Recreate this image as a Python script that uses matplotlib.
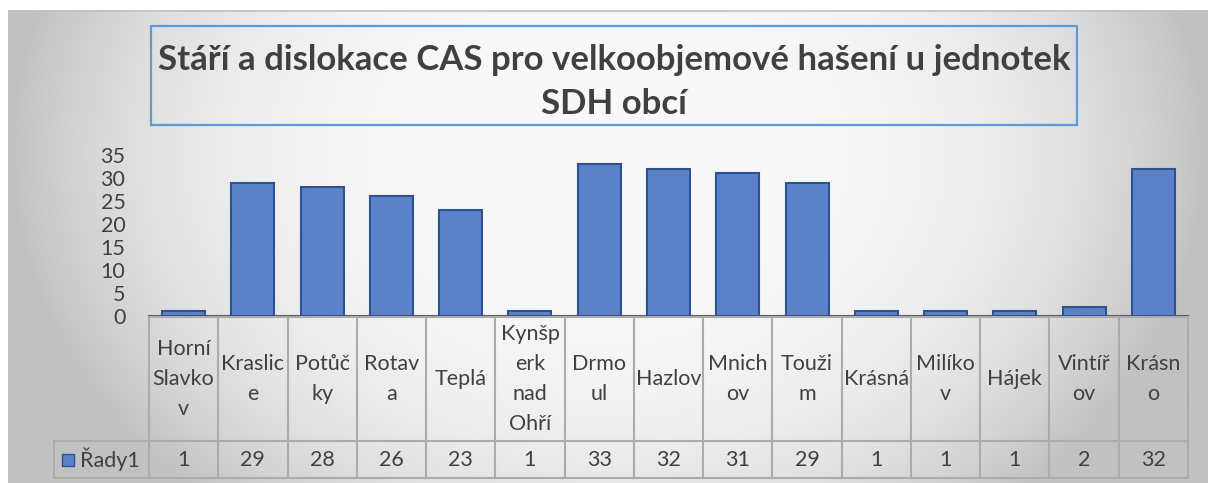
import numpy as np
import matplotlib
matplotlib.use("Agg")
import matplotlib.pyplot as plt
from matplotlib.patches import Rectangle

plt.rcParams['font.family'] = ['Lato', 'DejaVu Sans']

categories = ["Horní\nSlavko\nv", "Kraslic\ne", "Potůč\nky", "Rotav\na", "Teplá",
              "Kynšp\nerk\nnad\nOhří", "Drmo\nul", "Hazlov", "Mnich\nov", "Touži\nm",
              "Krásná", "Milíko\nv", "Hájek", "Vintíř\nov", "Krásn\no"]
values = [1, 29, 28, 26, 23, 1, 33, 32, 31, 29, 1, 1, 1, 2, 32]
series_name = "Řady1"
yticks = [0, 5, 10, 15, 20, 25, 30, 35]
title = "Stáří a dislokace CAS pro velkoobjemové hašení u jednotek\nSDH obcí"

W, H = 1208, 483
fig = plt.figure(figsize=(W / 100, H / 100), dpi=100)
fig.patch.set_facecolor("white")

def fx(x):
    return x / W

def fy(y):
    return 1 - y / H

# background gradient (chart area)
bg = fig.add_axes([fx(8), 0, 1 - fx(8), fy(10)])
bg.set_axis_off()
gx = np.linspace(0, 1, 600)
gy = np.linspace(0, 1, 240)
X, Y = np.meshgrid(gx, gy)
r = np.sqrt(((X - 0.5) / 0.5) ** 2 + ((Y - 0.3) / 1.0) ** 2)
r = np.clip(r, 0, 1)
val = (249 - 56 * r ** 3.2) / 255.0
img = np.dstack([val, val, val])
bg.imshow(img, aspect='auto', extent=[0, 1, 1, 0], interpolation='bilinear')
bg.set_xlim(0, 1)
bg.set_ylim(1, 0)
bg.plot([0, 1], [0.002, 0.002], color="#c0c0c0", lw=1.2)

# title box
fig.patches.append(Rectangle((fx(151), fy(125)), fx(926), 99 / H, transform=fig.transFigure,
                             facecolor="none", edgecolor="#5B9BD5", lw=1.6, zorder=5))
fig.text(fx(614), fy(82), title, ha="center", va="center", fontsize=25, fontweight="bold",
         color="#404040", linespacing=1.45)

# main axes
ax = fig.add_axes([fx(149), fy(316), fx(1039), 161 / H])
ax.patch.set_alpha(0)
x = np.arange(len(values))
ax.bar(x, values, width=0.62, color="#5B82C9", edgecolor="#2F528F", linewidth=1.5, zorder=3)
ax.set_xlim(-0.5, len(values) - 0.5)
ax.set_ylim(0, 35)
ax.set_yticks(yticks)
ax.set_yticklabels([str(t) for t in yticks])
ax.tick_params(axis='y', length=0, pad=17, labelsize=15.5, labelcolor="#404040")
ax.set_xticks([])
for s in ["top", "right", "left"]:
    ax.spines[s].set_visible(False)
ax.spines["bottom"].set_color("#595959")
ax.spines["bottom"].set_linewidth(1.5)

# data table
tb = fig.add_axes([fx(149), fy(478), fx(1039), (478 - 317) / H])
tb.set_axis_off()
tb.set_xlim(-0.5, len(values) - 0.5)
tb.set_ylim(0, 1)
n = len(values)
split = 37 / 161
leg_left = -0.5 - (149 - 54) / (1039 / n)
lc = "#ababab"
tb.plot([-0.5, n - 0.5], [1, 1], color=lc, lw=1.5, clip_on=False)
for yy in [split, 0]:
    tb.plot([leg_left, n - 0.5], [yy, yy], color=lc, lw=1.5, clip_on=False)
for i in range(n + 1):
    tb.plot([i - 0.5, i - 0.5], [0, 1], color=lc, lw=1.5, clip_on=False)
tb.plot([leg_left, leg_left], [0, split], color=lc, lw=1.5, clip_on=False)

for i, (c, v) in enumerate(zip(categories, values)):
    tb.text(i, (1 + split) / 2, c, ha="center", va="center", fontsize=15.5, color="#404040",
            linespacing=1.62)
    tb.text(i, split / 2, str(v), ha="center", va="center", fontsize=15.5, color="#404040")

# legend key in table
sq = 12 / (1039 / n)
tb.add_patch(Rectangle((leg_left + 8 / (1039 / n), split / 2 - 6 / 161), sq, 12 / 161,
                       facecolor="#5B82C9", edgecolor="#2F528F", lw=1, clip_on=False))
tb.text(leg_left + 26 / (1039 / n), split / 2, series_name, ha="left", va="center",
        fontsize=15.5, color="#404040")

fig.savefig("out.png", dpi=100, facecolor=fig.get_facecolor())
